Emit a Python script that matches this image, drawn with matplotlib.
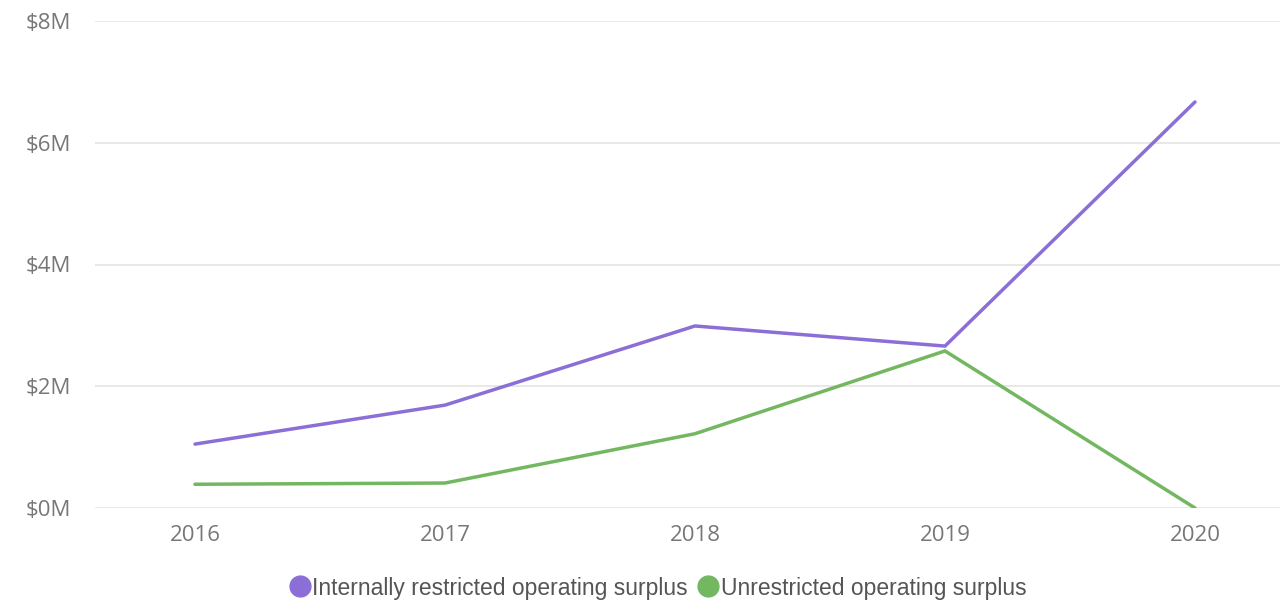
import matplotlib
matplotlib.use("Agg")
import matplotlib.pyplot as plt
from matplotlib.lines import Line2D

years = ["2016", "2017", "2018", "2019", "2020"]
internally_restricted = [1.05, 1.69, 2.99, 2.66, 6.67]  # $M
unrestricted = [0.39, 0.41, 1.22, 2.58, 0.0]  # $M
y_ticks = [0, 2, 4, 6, 8]

PURPLE = "#8B6FD6"
GREEN = "#73B761"
TICK_GRAY = "#777777"

fig = plt.figure(figsize=(12.8, 6.02), dpi=100)
ax = fig.add_axes([95 / 1280, 1 - 508 / 602, 1 - 95 / 1280, (508 - 21) / 602])

x = list(range(len(years)))
ax.plot(x, internally_restricted, color=PURPLE, linewidth=2.5, solid_capstyle="round",
        solid_joinstyle="miter", zorder=3)
ax.plot(x, unrestricted, color=GREEN, linewidth=2.5, solid_capstyle="round",
        solid_joinstyle="miter", zorder=3)

ax.set_xlim(-0.4, 4.34)
ax.set_ylim(0, 8)
ax.set_yticks(y_ticks)
ax.set_yticklabels([f"${v}M" for v in y_ticks])
ax.set_xticks(x)
ax.set_xticklabels(years)

for spine in ax.spines.values():
    spine.set_visible(False)
ax.grid(axis="y", color="#E6E6E6", linewidth=1.3, zorder=0)
ax.tick_params(axis="both", length=0, labelsize=16, labelcolor=TICK_GRAY)
ax.tick_params(axis="y", pad=17)
ax.tick_params(axis="x", pad=12)
for lbl in ax.get_xticklabels() + ax.get_yticklabels():
    lbl.set_family(["Open Sans", "DejaVu Sans"])

handles = [
    Line2D([], [], linestyle="none", marker="o", markersize=15, color=PURPLE),
    Line2D([], [], linestyle="none", marker="o", markersize=15, color=GREEN),
]
fig.legend(handles, ["Internally restricted operating surplus", "Unrestricted operating surplus"],
           loc="center", bbox_to_anchor=(658 / 1280, 1 - 588 / 602), ncol=2, frameon=False,
           handletextpad=0.1, columnspacing=0.45, handlelength=0.9,
           prop={"family": "Liberation Sans", "size": 16.5}, labelcolor="#555555")

fig.savefig("out.png", dpi=100)
